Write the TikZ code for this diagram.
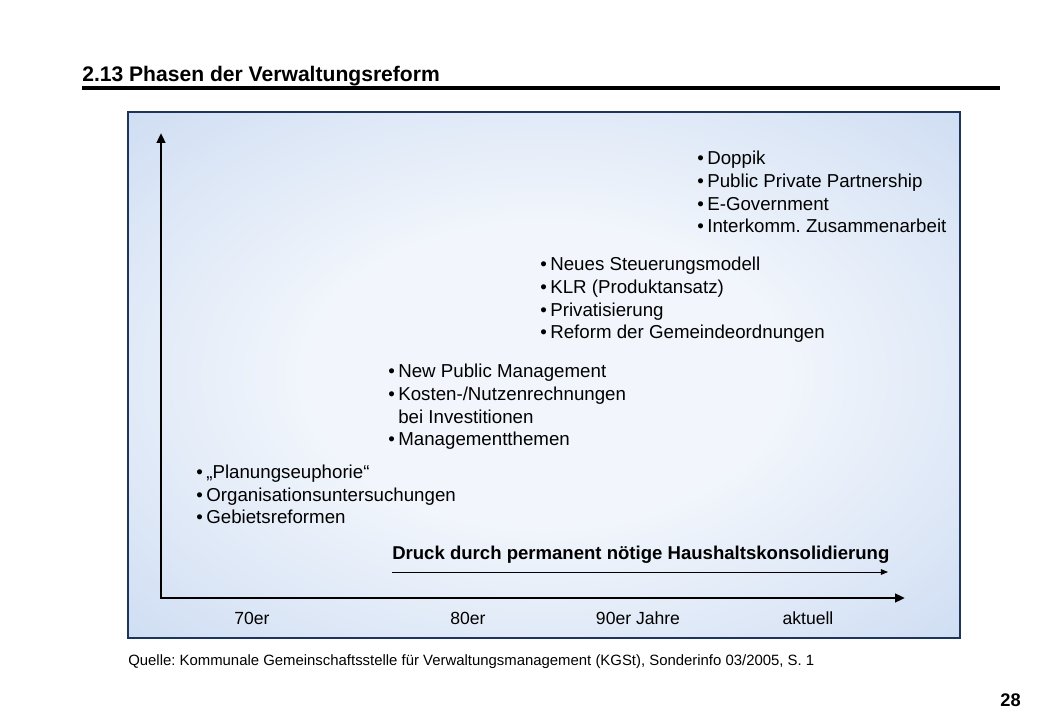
\documentclass[tikz,border=0pt]{standalone}
\usepackage{fontspec}
\setmainfont{Liberation Sans}
\usetikzlibrary{arrows.meta}
\frenchspacing
\definecolor{panelblue}{RGB}{181,203,236}
\definecolor{panelcore}{RGB}{242,246,252}
\definecolor{panelrim}{RGB}{30,52,92}
\pgfdeclareradialshading{panelglow}{\pgfpoint{0bp}{0bp}}{color(0bp)=(panelcore); color(14bp)=(panelcore); color(52bp)=(panelblue); color(100bp)=(panelblue)}
\tikzset{
  headline/.style={font=\fontsize{15}{18}\selectfont\bfseries, inner sep=0, anchor=base west},
  headrule/.style={line width=2.2pt},
  panel/.style={shading=panelglow, draw=panelrim, line width=0.8pt},
  phase/.style={anchor=base west, align=left, inner sep=0, font=\fontsize{13.3}{16.2}\selectfont},
  axis/.style={line width=2.1pt, line join=miter, {Triangle[length=7pt,width=6pt]}-{Triangle[length=7pt,width=6pt]}},
  push/.style={line width=0.7pt, -{Triangle[length=5pt,width=4pt]}},
  pushlabel/.style={font=\fontsize{13.2}{15}\selectfont\bfseries, inner sep=0, anchor=base west},
  era/.style={font=\fontsize{12.5}{15}\selectfont, inner sep=0, anchor=base},
  source/.style={font=\fontsize{10.6}{12}\selectfont, inner sep=0, anchor=base west},
}
\newcommand{\itm}{\textbullet\hspace{2.5pt}}
\newcommand{\hang}{\phantom{\textbullet}\hspace{2.5pt}}
\begin{document}
\begin{tikzpicture}[x=0.025cm, y=-0.025cm]
  \useasboundingbox[fill=white] (0,0) rectangle (1040,720);

  % heading
  \node[headline] (title) at (82,82) {2.13 Phasen der Verwaltungsreform};
  \coordinate (ruleL) at (82,88);
  \coordinate (ruleR) at (1000,88);
  \draw[headrule] (ruleL) -- (ruleR);

  % panel
  \shadedraw[panel] (128,112) rectangle (960,638);

  % axes
  \coordinate (origin) at (161,598);
  \coordinate (ytip) at (161,133);
  \coordinate (xtip) at (905,598);
  \draw[axis] (ytip) -- (origin) -- (xtip);

  % phases (anchored at the baseline of the last line)
  \node[phase] (p70) at (196,524) {\itm„Planungseuphorie“\\ \itm Organisationsuntersuchungen\\ \itm Gebietsreformen};
  \node[phase] (p80) at (388,446) {\itm New Public Management\\ \itm Kosten-/Nutzenrechnungen\\ \hang bei Investitionen\\ \itm Managementthemen};
  \node[phase] (p90) at (540,339) {\itm Neues Steuerungsmodell\\ \itm KLR (Produktansatz)\\ \itm Privatisierung\\ \itm Reform der Gemeindeordnungen};
  \node[phase] (pnow) at (697,233) {\itm Doppik\\ \itm Public Private Partnership\\ \itm E-Government\\ \itm Interkomm. Zusammenarbeit};

  % pressure
  \node[pushlabel] (pushtext) at (392,560) {Druck durch permanent nötige Haushaltskonsolidierung};
  \coordinate (pushL) at (392,572);
  \coordinate (pushR) at (888,572);
  \draw[push] (pushL) -- (pushR);

  % eras
  \node[era] (e70) at (252,625) {70er};
  \node[era] (e80) at (468,625) {80er};
  \node[era] (e90) at (638,625) {90er Jahre};
  \node[era] (enow) at (808,625) {aktuell};

  % footer
  \node[source] (quelle) at (128,666) {Quelle: Kommunale Gemeinschaftsstelle für Verwaltungsmanagement (KGSt), Sonderinfo 03/2005, S. 1};
  \node[headline, font=\fontsize{13}{15}\selectfont\bfseries, anchor=base east] (page) at (1021,706) {28};
\end{tikzpicture}
\end{document}
